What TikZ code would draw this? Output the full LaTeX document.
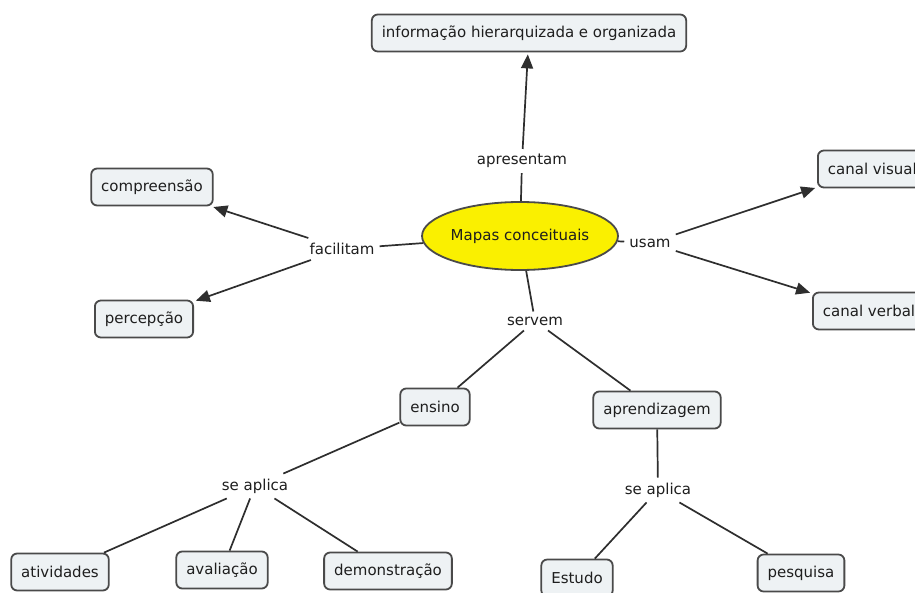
\documentclass[tikz,border=0pt]{standalone}
\usepackage{fontspec}
\setmainfont{DejaVu Sans}
\usetikzlibrary{arrows.meta,shapes.geometric}
\definecolor{boxfill}{HTML}{EEF2F4}
\definecolor{boxborder}{HTML}{4A4A4A}
\definecolor{linec}{HTML}{2E2E2E}
\definecolor{textc}{HTML}{1E1E1E}
\definecolor{mapyellow}{HTML}{FAF000}
\tikzset{
  concept/.style={draw=boxborder, fill=boxfill, rounded corners=6pt, line width=1.8pt,
    minimum height=37pt, inner xsep=10pt, inner ysep=0pt, text=textc,
    font=\fontsize{15}{18}\selectfont},
  mainconcept/.style={ellipse, draw=boxborder, fill=mapyellow, line width=1.8pt,
    minimum width=166pt, minimum height=68pt, inner sep=0pt, text=textc,
    font=\fontsize{15}{18}\selectfont},
  lphrase/.style={inner sep=5pt, text=textc, font=\fontsize{15}{18}\selectfont},
  conn/.style={draw=linec, line width=1.7pt},
  arr/.style={conn, -{Triangle[length=14pt,width=12pt]}, shorten >=2pt}
}
\begin{document}
\begin{tikzpicture}[x=1pt,y=-1pt]
\clip (0,0) rectangle (915,593);
\fill[white] (0,0) rectangle (915,593);

% concepts
\node[mainconcept] (mapas) at (520,236) {Mapas conceituais};
\node[concept] (info) at (529,33) {informação hierarquizada e organizada};
\node[concept] (compr) at (152,187) {compreensão};
\node[concept] (perc) at (144,319) {percepção};
\node[concept, anchor=west] (visual) at (817,169) {canal visual};
\node[concept, anchor=west] (verbal) at (812,311) {canal verbal};
\node[concept] (ensino) at (435,407) {ensino};
\node[concept] (aprend) at (657,410) {aprendizagem};
\node[concept] (ativ) at (60,572) {atividades};
\node[concept] (aval) at (222,570) {avaliação};
\node[concept] (demo) at (388,571) {demonstração};
\node[concept] (estudo) at (577,578) {Estudo};
\node[concept] (pesq) at (801,573) {pesquisa};

% linking phrases
\node[lphrase] (apres) at (522,161) {apresentam};
\node[lphrase] (facil) at (342,249) {facilitam};
\node[lphrase] (usam) at (650,243) {usam};
\node[lphrase] (servem) at (535,321) {servem};
\node[lphrase] (aplL) at (255,486) {se aplica};
\node[lphrase] (aplR) at (658,490) {se aplica};

% connectors
\draw[conn] (mapas) -- (apres);
\draw[arr] (apres) -- (info);
\draw[conn] (mapas) -- (facil);
\draw[arr] (facil) -- (compr);
\draw[arr] (facil) -- (perc);
\draw[conn] (mapas) -- (usam);
\draw[arr] (usam) -- (visual);
\draw[arr] (usam) -- (verbal);
\draw[conn] (mapas) -- (servem);
\draw[conn] (servem) -- (ensino);
\draw[conn] (servem) -- (aprend);
\draw[conn] (ensino) -- (aplL);
\draw[conn] (aplL) -- (ativ);
\draw[conn] (aplL) -- (aval);
\draw[conn] (aplL) -- (demo);
\draw[conn] (aprend) -- (aplR);
\draw[conn] (aplR) -- (estudo);
\draw[conn] (aplR) -- (pesq);
\end{tikzpicture}
\end{document}
